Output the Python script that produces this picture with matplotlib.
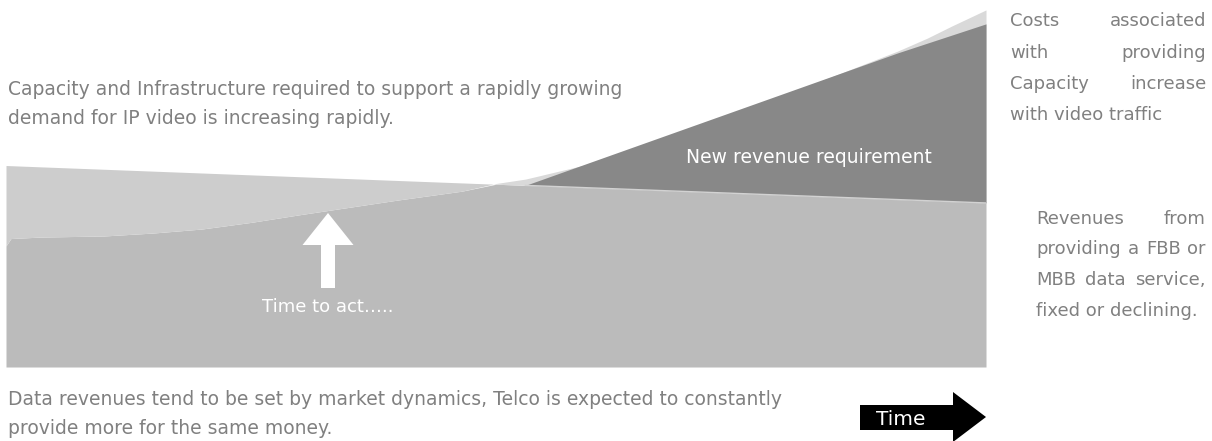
import numpy as np
import matplotlib.pyplot as plt
from matplotlib.patches import FancyArrow, Polygon

plt.rcParams['font.family'] = ['DejaVu Sans']

# data (time in arbitrary units, values as % of chart height)
time = np.array([0, 0.05, 0.35, 1, 1.5, 2, 2.5, 3, 3.5, 4, 4.65, 5, 5.3, 5.9, 7.1, 8.1, 9.1, 9.4, 9.65, 10])
costs = np.array([33, 35, 35.4, 35.7, 36.5, 37.6, 39.4, 41.5, 43.5, 45.5, 47.9, 50.0, 51.2, 55,
                  66.2, 75.7, 86.1, 89.6, 92.9, 97.3])
revenues = np.array([54.9, 54.85, 54.54, 53.88, 53.37, 52.86, 52.35, 51.84, 51.33, 50.82, 50.16,
                     49.8, 49.49, 48.88, 47.66, 46.64, 45.62, 45.31, 45.06, 44.7])

req_time = np.array([5.3, 9.1, 10])
req_top = np.array([49.5, 85.6, 93.5])
req_bottom = np.array([49.49, 45.62, 44.7])

W, H = 1212, 441
TXT = '#808080'

fig = plt.figure(figsize=(W / 100, H / 100), dpi=100)
ax = fig.add_axes([6 / W, (H - 367) / H, 980 / W, 367 / H])
ax.set_xlim(0, 10)
ax.set_ylim(0, 100)
ax.axis('off')

ax.fill_between(time, 0, np.minimum(costs, revenues), color='#bbbbbb', lw=0)
ax.fill_between(time, costs, revenues, where=revenues >= costs, interpolate=True,
                color='#cdcdcd', lw=0)
ax.fill_between(time, revenues, costs, where=costs >= revenues, interpolate=True,
                color='#d9d9d9', lw=0)
ax.fill_between(req_time, req_bottom, req_top, color='#888888', lw=0)
ax.plot(req_time, req_bottom, color='#d2d2d2', lw=1)

# overlay in pixel coords for the notes
ov = fig.add_axes([0, 0, 1, 1])
ov.set_xlim(0, W)
ov.set_ylim(H, 0)
ov.axis('off')
ov.patch.set_alpha(0)

fs = 13.5
ov.text(8, 95, 'Capacity and Infrastructure required to support a rapidly growing',
        fontsize=fs, color=TXT, va='baseline')
ov.text(8, 124, 'demand for IP video is increasing rapidly.', fontsize=fs, color=TXT, va='baseline')
ov.text(8, 405, 'Data revenues tend to be set by market dynamics, Telco is expected to constantly',
        fontsize=fs, color=TXT, va='baseline')
ov.text(8, 434, 'provide more for the same money.', fontsize=fs, color=TXT, va='baseline')

ov.text(932, 163, 'New revenue requirement', fontsize=fs, color='white', ha='right', va='baseline')
ov.text(328, 312, 'Time to act\u2026..', fontsize=13, color='white', ha='center', va='baseline')

ov.add_patch(FancyArrow(328, 288, 0, -75, width=14, head_width=51, head_length=32,
                        length_includes_head=True, color='white', lw=0))

ov.add_patch(Polygon([(860, 405), (953, 405), (953, 392), (986, 417), (953, 442),
                      (953, 430), (860, 430)], closed=True, color='black', lw=0))
ov.text(876, 425, 'Time', fontsize=14.5, color='white', va='baseline')

renderer = fig.canvas.get_renderer()
fs_r = 13


def justified(lines, x0, x1, y0, step):
    for i, line in enumerate(lines):
        y = y0 + i * step
        words = line.split()
        if i == len(lines) - 1 or len(words) == 1:
            ov.text(x0, y, line, fontsize=fs_r, color=TXT, va='baseline')
            continue
        objs = [ov.text(0, y, w, fontsize=fs_r, color=TXT, va='baseline') for w in words]
        widths = [o.get_window_extent(renderer).width for o in objs]
        gap = (x1 - x0 - sum(widths)) / (len(words) - 1)
        x = x0
        for o, w in zip(objs, widths):
            o.set_x(x)
            x += w + gap


justified(['Costs associated', 'with providing', 'Capacity increase', 'with video traffic'],
          1010, 1206, 26, 31.5)
justified(['Revenues from', 'providing a FBB or', 'MBB data service,', 'fixed or declining.'],
          1036, 1206, 224, 30.5)

fig.savefig('out.png', dpi=100)
